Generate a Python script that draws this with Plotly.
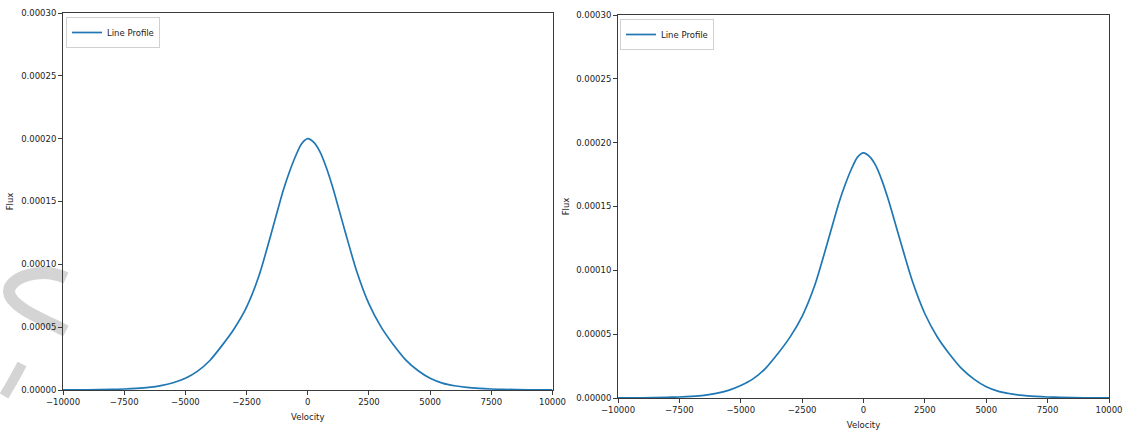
import plotly.graph_objects as go

# Velocity samples (km/s), denser around the line core
velocity = [
    -10000, -9000, -8000, -7500, -7000, -6500, -6000, -5500, -5000, -4500,
    -4000, -3500, -3000, -2500, -2000, -1500, -1000, -750, -500, -250,
    0,
    250, 500, 750, 1000, 1500, 2000, 2500, 3000, 3500, 4000,
    4500, 5000, 5500, 6000, 6500, 7000, 7500, 8000, 9000, 10000,
]

# Emission-line flux, first epoch
flux_a = [
    1e-7, 2e-7, 5e-7, 8e-7, 1.3e-6, 2.1e-6, 3.5e-6, 5.8e-6, 9.3e-6, 1.5e-5,
    2.35e-5, 3.55e-5, 4.9e-5, 6.6e-5, 9.05e-5, 1.24e-4, 1.59e-4, 1.735e-4, 1.86e-4, 1.96e-4,
    2.0e-4,
    1.97e-4, 1.895e-4, 1.775e-4, 1.625e-4, 1.28e-4, 9.45e-5, 6.85e-5, 5.0e-5, 3.6e-5, 2.4e-5,
    1.55e-5, 9.3e-6, 5.5e-6, 3.4e-6, 2.1e-6, 1.3e-6, 8e-7, 5e-7, 2e-7, 1e-7,
]

# Emission-line flux, second epoch
flux_b = [
    1e-7, 2e-7, 5e-7, 8e-7, 1.3e-6, 2.1e-6, 3.6e-6, 6.0e-6, 9.8e-6, 1.5e-5,
    2.3e-5, 3.45e-5, 4.75e-5, 6.4e-5, 8.75e-5, 1.195e-4, 1.53e-4, 1.67e-4, 1.79e-4, 1.885e-4,
    1.92e-4,
    1.89e-4, 1.82e-4, 1.705e-4, 1.56e-4, 1.23e-4, 9.1e-5, 6.6e-5, 4.8e-5, 3.45e-5, 2.3e-5,
    1.48e-5, 8.8e-6, 5.2e-6, 3.3e-6, 2.0e-6, 1.3e-6, 8e-7, 5e-7, 2e-7, 1e-7,
]

x_ticks = [-10000, -7500, -5000, -2500, 0, 2500, 5000, 7500, 10000]
y_ticks = [0.0, 0.00005, 0.00010, 0.00015, 0.00020, 0.00025, 0.00030]

W, H = 1126, 435
LINE = "#1f77b4"
FONT = dict(family="DejaVu Sans", size=8.5, color="#222222")


def px(x, y):
    """Pixel position -> paper coordinates."""
    return x / W, 1 - y / H


fig = go.Figure()
fig.add_trace(go.Scatter(
    x=velocity, y=flux_a, mode="lines", name="Line Profile",
    line=dict(color=LINE, width=1.7, shape="spline", smoothing=0.8),
    xaxis="x", yaxis="y", legend="legend",
))
fig.add_trace(go.Scatter(
    x=velocity, y=flux_b, mode="lines", name="Line Profile",
    line=dict(color=LINE, width=1.7, shape="spline", smoothing=0.8),
    xaxis="x2", yaxis="y2", legend="legend2",
))

axis_common = dict(
    showgrid=False, zeroline=False, showline=True, mirror=True,
    linecolor="#3a3a3a", linewidth=1, ticks="outside", ticklen=4,
    tickcolor="#3a3a3a", tickwidth=1, tickfont=FONT, automargin=False,
)
xaxis_common = dict(axis_common, range=[-10000, 10000], tickvals=x_ticks,
                    tickformat="d")
yaxis_common = dict(axis_common, range=[0, 0.0003], tickvals=y_ticks,
                    tickformat=".5f")

fig.update_layout(
    template="none",
    width=W, height=H,
    margin=dict(l=0, r=0, t=0, b=0),
    paper_bgcolor="white", plot_bgcolor="white",
    font=FONT,
    xaxis=dict(xaxis_common, domain=[63 / W, 552.5 / W], anchor="y",
               title=dict(text="Velocity", font=FONT, standoff=7)),
    yaxis=dict(yaxis_common, domain=[1 - 390 / H, 1 - 13 / H], anchor="x",
               title=dict(text="Flux", font=FONT, standoff=6)),
    xaxis2=dict(xaxis_common, domain=[618 / W, 1109 / W], anchor="y2",
                title=dict(text="Velocity", font=FONT, standoff=7)),
    yaxis2=dict(yaxis_common, domain=[1 - 398 / H, 1 - 15 / H], anchor="x2",
                title=dict(text="Flux", font=FONT, standoff=5)),
    legend=dict(x=px(66, 0)[0], y=px(0, 17)[1], xanchor="left", yanchor="top",
                bgcolor="white", bordercolor="#d0d0d0", borderwidth=1,
                font=FONT, itemwidth=30, tracegroupgap=0),
    legend2=dict(x=px(620, 0)[0], y=px(0, 19)[1], xanchor="left", yanchor="top",
                 bgcolor="white", bordercolor="#d0d0d0", borderwidth=1,
                 font=FONT, itemwidth=30, tracegroupgap=0),
    showlegend=True,
)


def path(points):
    """Build an SVG cubic path in paper coordinates from pixel points."""
    p = [px(*pt) for pt in points]
    d = "M {:.5f},{:.5f} ".format(*p[0])
    rest = p[1:]
    for i in range(0, len(rest), 3):
        a, b, c = rest[i:i + 3]
        d += "C {:.5f},{:.5f} {:.5f},{:.5f} {:.5f},{:.5f} ".format(*a, *b, *c)
    return d


# Grey stamp stroke in the left margin
fig.add_shape(type="path", xref="paper", yref="paper", layer="below",
              path=path([(66, 278), (40, 266), (8, 278), (9, 292),
                         (10, 306), (40, 318), (66, 331)]),
              line=dict(color="#d4d4d4", width=12))
fig.add_shape(type="path", xref="paper", yref="paper", layer="below",
              path=path([(22, 364), (16, 376), (10, 386), (4, 396)]),
              line=dict(color="#d4d4d4", width=10))

fig.write_html("out.html")
